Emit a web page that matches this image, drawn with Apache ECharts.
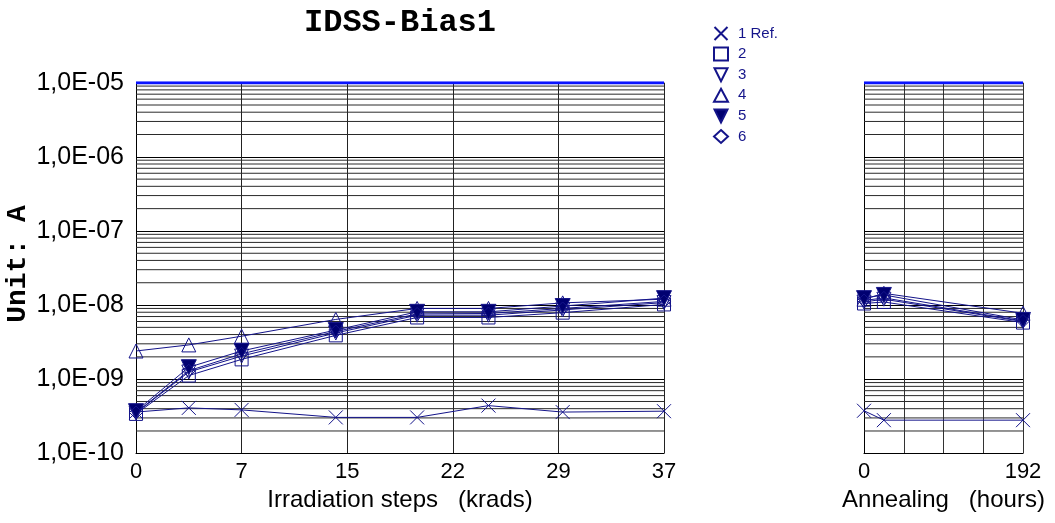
<!DOCTYPE html>
<html>
<head>
<meta charset="utf-8">
<script src="https://cdn.jsdelivr.net/npm/echarts@6/dist/echarts.min.js"></script>
<style>html,body{margin:0;padding:0;background:#fff;}#c{width:1055px;height:523px;}</style>
</head>
<body>
<div id="c"></div>
<script>
// ---- data ----
const seriesNames = ['1 Ref.', '2', '3', '4', '5', '6'];
const irrX = [0, 3.7, 7.4, 14, 19.7, 24.7, 29.9, 37];          // krads
const annX = [0, 24, 192];                                      // hours
const irrTickLabels = ['0', '7', '15', '22', '29', '37'];
const annTickLabels = ['0', '', '', '', '192'];

const irr1 = [3.6e-10, 4.1e-10, 3.85e-10, 3.05e-10, 3.05e-10, 4.4e-10, 3.6e-10, 3.7e-10];
const irr2 = [3.4e-10, 1.12e-9, 1.85e-9, 3.9e-9, 6.8e-9, 6.8e-9, 7.9e-9, 1.02e-8];
const irr3 = [3.5e-10, 1.25e-9, 2.05e-9, 4.2e-9, 7.3e-9, 7.3e-9, 8.6e-9, 1.08e-8];
const irr4 = [2.4e-9, 2.9e-9, 3.8e-9, 6.4e-9, 9.0e-9, 9.0e-9, 1.07e-8, 1.2e-8];
const irr5 = [3.7e-10, 1.45e-9, 2.4e-9, 4.6e-9, 8.1e-9, 8.1e-9, 9.7e-9, 1.24e-8];
const irr6 = [3.55e-10, 1.3e-9, 2.2e-9, 4.4e-9, 7.6e-9, 7.7e-9, 9.0e-9, 1.12e-8];

const ann1 = [3.75e-10, 2.8e-10, 2.8e-10];
const ann2 = [1.05e-8, 1.1e-8, 5.8e-9];
const ann3 = [1.1e-8, 1.2e-8, 6.0e-9];
const ann4 = [1.2e-8, 1.44e-8, 7.75e-9];
const ann5 = [1.24e-8, 1.37e-8, 6.3e-9];
const ann6 = [1.15e-8, 1.25e-8, 6.1e-9];

// ---- styling ----
const NAVY = '#14148a';
const symbols = [
  'path://M0,0L10,10M10,0L0,10',
  'rect',
  'path://M0,0L10,0L5,10Z',
  'triangle',
  'path://M0,0L10,0L5,10Z',
  'diamond'
];
const symbolSizes = [14, 13, 14, 14, 15, 13];
const fills = ['transparent', 'transparent', 'transparent', 'transparent', '#000070', 'transparent'];

const irrData = [irr1, irr2, irr3, irr4, irr5, irr6];
const annData = [ann1, ann2, ann3, ann4, ann5, ann6];

// log-scale minor grid values (2..9 per decade)
const minorVals = [];
for (let e = -10; e < -5; e++) {
  for (let m = 2; m <= 9; m++) minorVals.push(m * Math.pow(10, e));
}

function gridSeries(axisIdx, xmin, xmax) {
  const out = [];
  minorVals.forEach(v => {
    out.push({
      type: 'line', xAxisIndex: axisIdx, yAxisIndex: axisIdx, silent: true,
      data: [[xmin, v], [xmax, v]], symbol: 'none', z: 1,
      lineStyle: { color: '#2a2a2a', width: 1 }, emphasis: { disabled: true }
    });
  });
  out.push({
    type: 'line', xAxisIndex: axisIdx, yAxisIndex: axisIdx, silent: true,
    data: [[xmin, 1e-5], [xmax, 1e-5]], symbol: 'none', z: 3,
    lineStyle: { color: '#0a14ff', width: 3 }, emphasis: { disabled: true }
  });
  return out;
}

function mkSeries(idx, xs, ys, axisIdx) {
  return {
    name: seriesNames[idx],
    type: 'line',
    xAxisIndex: axisIdx,
    yAxisIndex: axisIdx,
    data: xs.map((x, i) => [x, ys[i]]),
    symbol: symbols[idx],
    symbolSize: symbolSizes[idx],
    showAllSymbol: true,
    lineStyle: { color: NAVY, width: 1 },
    itemStyle: { color: fills[idx], borderColor: NAVY, borderWidth: 1 },
    emphasis: { disabled: true },
    z: 5
  };
}

let series = [];
series = series.concat(gridSeries(0, 0, 37), gridSeries(1, 0, 192));
for (let i = 0; i < 6; i++) series.push(mkSeries(i, irrX, irrData[i], 0));
for (let i = 0; i < 6; i++) series.push(mkSeries(i, annX, annData[i], 1));

const tickFont = { fontFamily: 'Liberation Sans', fontSize: 22, color: '#000' };
const nameFont = { fontFamily: 'Liberation Sans', fontSize: 24, color: '#000' };
const yLabFont = { fontFamily: 'Liberation Sans', fontSize: 25, color: '#000' };

function yFmt(v) {
  const e = Math.round(Math.log10(v));
  return '1,0E-' + String(-e).padStart(2, '0');
}

const option = {
  animation: false,
  backgroundColor: '#fff',
  grid: [
    { left: 136, top: 82.7, width: 528, height: 370.6, containLabel: false },
    { left: 864, top: 82.7, width: 159, height: 370.6, containLabel: false }
  ],
  legend: {
    orient: 'vertical',
    left: 708,
    top: 21,
    itemWidth: 14,
    itemHeight: 13,
    itemGap: 5.6,
    selectedMode: false,
    data: seriesNames.map((n, i) => ({ name: n, icon: symbols[i] })),
    textStyle: { fontFamily: 'Liberation Sans', fontSize: 15, color: NAVY, padding: [0, 0, 0, 5] }
  },
  xAxis: [
    {
      type: 'value', gridIndex: 0, min: 0, max: 37, interval: 7.4,
      name: 'Irradiation steps   (krads)', nameLocation: 'middle', nameGap: 34,
      nameTextStyle: nameFont,
      axisLine: { show: true, lineStyle: { color: '#000', width: 1 } },
      axisTick: { show: false },
      axisLabel: Object.assign({ margin: 8, formatter: v => irrTickLabels[Math.round(v / 7.4)] }, tickFont),
      splitLine: { show: true, lineStyle: { color: '#222', width: 1 } }
    },
    {
      type: 'value', gridIndex: 1, min: 0, max: 192, interval: 48,
      name: 'Annealing   (hours)', nameLocation: 'middle', nameGap: 34,
      nameTextStyle: nameFont,
      axisLine: { show: true, lineStyle: { color: '#000', width: 1 } },
      axisTick: { show: false },
      axisLabel: Object.assign({ margin: 8, formatter: v => annTickLabels[Math.round(v / 48)] }, tickFont),
      splitLine: { show: true, lineStyle: { color: '#333', width: 1 } }
    }
  ],
  yAxis: [
    {
      type: 'log', gridIndex: 0, min: 1e-10, max: 1e-5, logBase: 10, splitNumber: 5,
      axisLine: { show: true, lineStyle: { color: '#000', width: 1 } },
      axisTick: { show: false },
      axisLabel: Object.assign({ margin: 12, formatter: yFmt }, yLabFont),
      splitLine: { show: true, lineStyle: { color: '#000', width: 1 } }
    },
    {
      type: 'log', gridIndex: 1, min: 1e-10, max: 1e-5, logBase: 10, splitNumber: 5,
      axisLine: { show: true, lineStyle: { color: '#000', width: 1 } },
      axisTick: { show: false },
      axisLabel: { show: false },
      splitLine: { show: true, lineStyle: { color: '#000', width: 1 } }
    }
  ],
  graphic: [
    {
      type: 'text', x: 400, y: 23,
      style: { text: 'IDSS-Bias1', font: 'bold 32px "Liberation Mono"', fill: '#000', align: 'center', verticalAlign: 'middle' }
    },
    {
      type: 'text', x: 18, y: 264, rotation: Math.PI / 2,
      style: { text: 'Unit: A', font: 'bold 28px "Liberation Mono"', fill: '#000', align: 'center', verticalAlign: 'middle' }
    }
  ],
  series: series
};

const chart = echarts.init(document.getElementById('c'), null, { renderer: 'canvas' });
chart.setOption(option);
</script>
</body>
</html>
